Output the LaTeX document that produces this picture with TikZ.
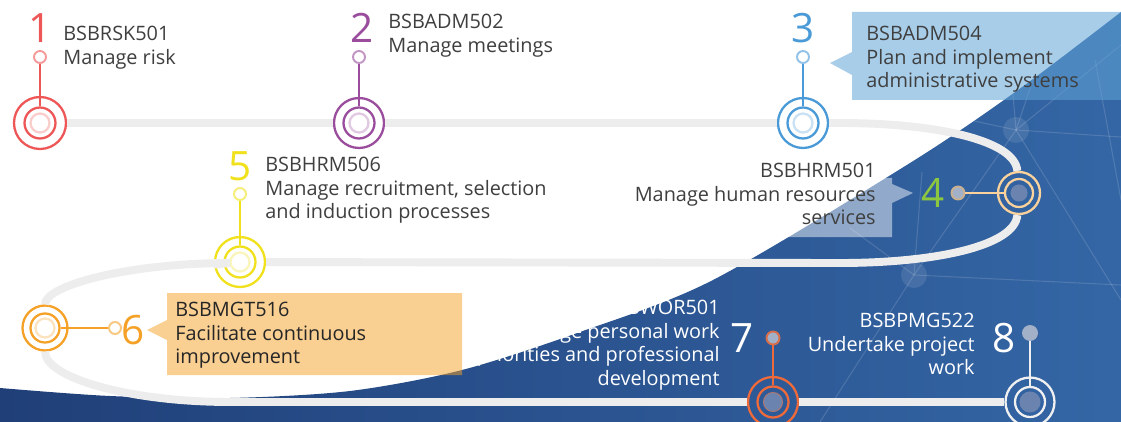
\documentclass[tikz,border=0pt]{standalone}
\usepackage{fontspec}
\setmainfont{Open Sans}
\usetikzlibrary{calc}
\definecolor{trackgray}{HTML}{EDEDED}
\definecolor{txtgray}{HTML}{3F3F3F}
\definecolor{cred}{HTML}{EE5757}
\definecolor{cpurple}{HTML}{9A4C9D}
\definecolor{cblue}{HTML}{4A9AD8}
\definecolor{cpeach}{HTML}{FBD29C}
\definecolor{cgreen}{HTML}{8DC63F}
\definecolor{cyellow}{HTML}{F0E11C}
\definecolor{corange}{HTML}{F5A127}
\definecolor{ctomato}{HTML}{EF6A3A}
\definecolor{cwhite}{HTML}{F0F0F0}
\definecolor{navyA}{HTML}{203F78}
\definecolor{navyB}{HTML}{3466A5}
\definecolor{hubfill}{HTML}{6B84AF}
\definecolor{tipfill}{HTML}{A3B1C8}
\definecolor{boxblue}{HTML}{61A4D7}
\def\bluepath{plot[smooth] coordinates {(0,388) (110,396) (230,398) (350,391) (462,370) (580,332) (713,280) (910,163) (1018,90) (1121,12)} -- (1121,422) -- (0,422) -- cycle}
\tikzset{
  outer/.style={circle, draw=#1, line width=1.3pt, minimum size=10mm, inner sep=0pt},
  middle/.style={circle, draw=#1, line width=1.3pt, minimum size=6.2mm, inner sep=0pt},
  inner/.style={circle, draw=#1, line width=1.3pt, minimum size=3.8mm, inner sep=0pt},
  hub/.style={circle, fill=hubfill, draw=#1, line width=0.6pt, minimum size=3.8mm, inner sep=0pt},
  tip/.style={circle, draw=#1, fill=white, line width=1.1pt, minimum size=2.4mm, inner sep=0pt},
  stem/.style={draw=#1, line width=1.3pt},
  track/.style={draw=trackgray, line width=4.5pt},
  num/.style={text=#1, font=\fontsize{23}{23}\selectfont, inner sep=0pt},
  lbl/.style={text=#1, font=\fontsize{11.3}{13.4}\selectfont, inner sep=0pt, align=left, anchor=north west},
  rlbl/.style={text=#1, font=\fontsize{11.3}{13.4}\selectfont, inner sep=0pt, align=right, anchor=north east},
  net/.style={white, opacity=0.14, line width=0.6pt},
  netdot/.style={fill=white, opacity=0.1},
}

\begin{document}
\begin{tikzpicture}[x=0.02cm, y=-0.02cm]
	%%%%% BACKGROUND %%%%%
	\useasboundingbox (0,0) rectangle (1121,422);
	\fill[white] (0,0) rectangle (1121,422);
	\shade[left color=navyA, right color=navyB] \bluepath;
	\begin{scope}
		\clip \bluepath;
		\coordinate (hubA) at (1016,130);
		\coordinate (hubB) at (914,275);
		\draw[net] (hubA) -- (1121,137);
		\draw[net] (hubA) -- (1121,300);
		\draw[net] (hubA) -- (900,105);
		\draw[net] (hubA) -- (1060,0);
		\draw[net] (hubA) -- (1005,0);
		\draw[net] (hubA) -- (1121,45);
		\draw[net] (hubA) -- (hubB);
		\draw[net] (hubB) -- (1121,285);
		\draw[net] (hubB) -- (850,228);
		\draw[net] (hubB) -- (922,172);
		\draw[net] (hubB) -- (820,422);
		\draw[net] (1095,60) -- (1121,200);
		\fill[netdot] (hubA) circle (13);
		\fill[netdot] (hubB) circle (13);
	\end{scope}

	%%%%% BOXES %%%%%
	\fill[boxblue, opacity=0.55] (852,12) rectangle (1121,100) (852,52) -- (830,63) -- (852,75) -- cycle;
	\fill[white, opacity=0.47] (660,178) rectangle (892,237) (892,184) -- (913,193) -- (892,203) -- cycle;

	%%%%% STATIONS %%%%%
	% 1
	\node[outer=cred, minimum size=10.4mm] (s1) at (40,123) {};
	\node[middle=cred] (m1) at (s1) {};
	\node[inner=cred!30] at (s1) {};
	\node[tip=cred!60] (t1) at (40,57) {};
	\draw[stem=cred] (t1) -- (m1);
	\node[num=cred] at (40,28) {1};
	\node[lbl=txtgray] at (63,26) {BSBRSK501\\Manage risk};

	% 2
	\node[outer=cpurple] (s2) at (359,123) {};
	\node[middle=cpurple] (m2) at (s2) {};
	\node[inner=cpurple!30] at (s2) {};
	\node[tip=cpurple!60] (t2) at (359,57) {};
	\draw[stem=cpurple] (t2) -- (m2);
	\node[num=cpurple] at (362,28) {2};
	\node[lbl=txtgray] at (388,14) {BSBADM502\\Manage meetings};

	% 3
	\node[outer=cblue] (s3) at (803,123) {};
	\node[middle=cblue] (m3) at (s3) {};
	\node[inner=cblue!30] at (s3) {};
	\node[tip=cblue!60] (t3) at (803,57) {};
	\draw[stem=cblue] (t3) -- (m3);
	\node[num=cblue] at (803,28) {3};
	\node[lbl=txtgray] at (866,26) {BSBADM504\\Plan and implement\\administrative systems};

	% 4
	\node[outer=cpeach, minimum size=8.4mm] (s4) at (1019,193) {};
	\node[middle=cpeach, minimum size=5.6mm] (m4) at (s4) {};
	\node[hub=hubfill, minimum size=3.2mm] at (s4) {};
	\node[tip=cpeach!60!gray, fill=tipfill, minimum size=2.6mm] (t4) at (958,193) {};
	\draw[stem=cpeach] (t4) -- (m4);
	\node[num=cgreen] at (933,193) {4};
	\node[rlbl=txtgray] at (876,163) {BSBHRM501\\Manage human resources\\services};

	% 5
	\node[outer=cyellow] (s5) at (240,262) {};
	\node[middle=cyellow] (m5) at (s5) {};
	\node[inner=cyellow!30] at (s5) {};
	\node[tip=cyellow!60] (t5) at (240,194) {};
	\draw[stem=cyellow] (t5) -- (m5);
	\node[num=cyellow] at (240,166) {5};
	\node[lbl=txtgray] at (265,157) {BSBHRM506\\Manage recruitment, selection\\and induction processes};

	% 6
	\node[outer=corange, minimum size=9mm] (s6) at (45,328) {};
	\node[middle=corange, minimum size=5.8mm] (m6) at (s6) {};
	\node[inner=corange!30] at (s6) {};
	\node[tip=corange!60] (t6) at (115,328) {};
	\draw[stem=corange] (t6) -- (m6);
	\node[num=corange] at (133,330) {6};

	% 7
	\node[outer=ctomato] (s7) at (773,402) {};
	\node[middle=ctomato] (m7) at (s7) {};
	\node[hub=ctomato!50!hubfill] at (s7) {};
	\node[tip=ctomato!80!gray, fill=tipfill, minimum size=2.6mm] (t7) at (773,338) {};
	\draw[stem=ctomato] (t7) -- (m7);
	\node[num=white] at (742,338) {7};
	\node[rlbl=white] at (720,300) {BSBWOR501\\Manage personal work\\priorities and professional\\development};

	% 8
	\node[outer=cwhite, minimum size=9.8mm] (s8) at (1030,402) {};
	\node[middle=cwhite, minimum size=6mm] (m8) at (s8) {};
	\node[hub=hubfill, minimum size=4mm] at (s8) {};
	\node[tip=tipfill, fill=tipfill, minimum size=2.8mm] (t8) at (1030,333) {};
	\draw[stem=cwhite] (t8) -- (m8);
	\node[num=white] at (1004,338) {8};
	\node[rlbl=white] at (975,313) {BSBPMG522\\Undertake project\\work};

	%%%%% TRACK %%%%%
	\draw[track] (s1) -- (s2);
	\draw[track] (s2) -- (s3);
	\draw[track] (s3) -- (840,123) .. controls (935,123) and (1015,140) .. (s4);
	\draw[track] (s4) .. controls (1015,246) and (935,263) .. (840,263) -- (s5);
	\draw[track] (s5) -- (230,263) .. controls (130,263) and (45,285) .. (s6);
	\draw[track] (s6) .. controls (45,378) and (130,402) .. (230,402) -- (s7);
	\draw[track] (s7) -- (s8);

	%%%%% BOX 6 %%%%%
	\fill[corange, opacity=0.5] (167,293) rectangle (462,375) (167,320) -- (147,330) -- (167,340) -- cycle;
	\node[lbl=black!85] at (175,302) {BSBMGT516\\Facilitate continuous\\improvement};
\end{tikzpicture}
\end{document}
